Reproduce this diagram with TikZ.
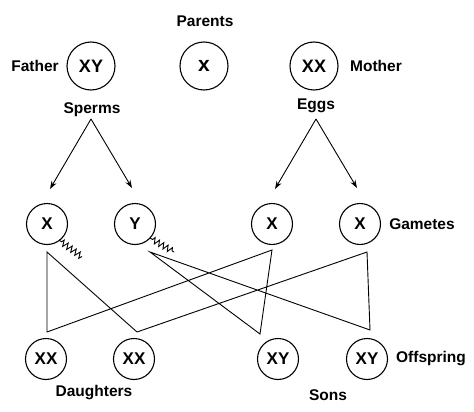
\documentclass[tikz,border=0pt]{standalone}
\usepackage{fontspec}
\setmainfont{Liberation Sans}
\usetikzlibrary{arrows.meta,decorations.pathmorphing}
\begin{document}
\begin{tikzpicture}[x=1pt,y=-1pt,
  lab/.style={font=\fontsize{15.5}{17}\selectfont\bfseries, inner sep=0pt},
  big/.style={draw, circle, minimum size=48pt, inner sep=0pt, line width=1.1pt, font=\fontsize{18}{20}\selectfont\bfseries},
  gam/.style={draw, circle, minimum size=41pt, inner sep=0pt, line width=1.1pt, font=\fontsize{17}{19}\selectfont\bfseries},
  link/.style={line width=0.9pt},
  arr/.style={line width=0.9pt, -{Stealth[length=8pt,width=5.5pt]}},
  squig/.style={line width=0.9pt, decorate, decoration={zigzag, segment length=5pt, amplitude=3pt, pre length=3pt}}]
\path[use as bounding box, fill=white] (0,0) rectangle (474,412);
% parents
\node[big] (father) at (91,66) {XY};
\node[big] (mid) at (204,66) {\fontsize{21}{23}\selectfont x};
\node[big] (mother) at (314,66) {XX};
\node[lab] (tfather) at (35,66) {Father};
\node[lab] (tmother) at (376,66) {Mother};
\node[lab] (tparents) at (205,21) {Parents};
\node[lab] (tsperms) at (92,110) {Sperms};
\node[lab] (teggs) at (316,106) {Eggs};
% apexes
\coordinate (sa) at (91,119);
\coordinate (ea) at (316,119);
% gametes
\node[gam] (g1) at (47,224) {X};
\node[gam] (g2) at (135,224) {Y};
\node[gam] (g3) at (272,224) {X};
\node[gam] (g4) at (360,224) {X};
\node[lab] (tgam) at (422,224) {Gametes};
\coordinate (t1) at (50,189);
\coordinate (t2) at (132,188);
\coordinate (t3) at (275,189);
\coordinate (t4) at (357,188);
\draw[arr] (sa) -- (t1);
\draw[arr] (sa) -- (t2);
\draw[arr] (ea) -- (t3);
\draw[arr] (ea) -- (t4);
% squiggles
\coordinate (q1a) at (59,240);
\coordinate (q1b) at (82,257);
\coordinate (q2a) at (150,238);
\coordinate (q2b) at (174,252);
\draw[squig] (q1a) -- (q1b);
\draw[squig] (q2a) -- (q2b);
% cross lines
\coordinate (p1) at (47,252);
\coordinate (p2) at (150,252);
\coordinate (p3) at (272,250);
\coordinate (p4) at (367,252);
\coordinate (b1) at (47,332);
\coordinate (b2) at (137,332);
\coordinate (b3) at (260,334);
\coordinate (b4) at (370,330);
\draw[link] (b2) -- (p1) -- (b1) -- (p3) -- (b3) -- (p2) -- (b4) -- (p4) -- (b2);
% offspring
\node[gam] (o1) at (46,359) {XX};
\node[gam] (o2) at (134,359) {XX};
\node[gam] (o3) at (278,359) {XY};
\node[gam] (o4) at (367,359) {XY};
\node[lab] (toff) at (431,359) {Offspring};
\node[lab] (tdau) at (94,393) {Daughters};
\node[lab] (tsons) at (328,395) {Sons};
\end{tikzpicture}
\end{document}
